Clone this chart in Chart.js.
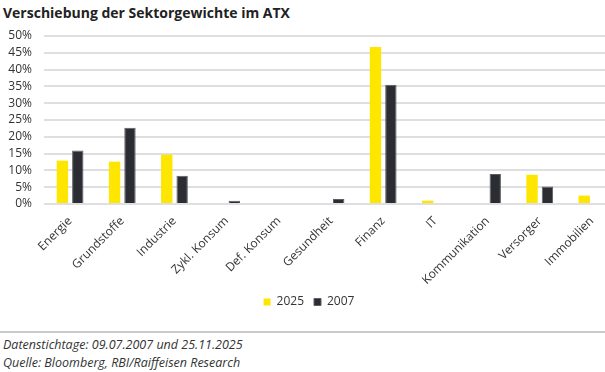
<!DOCTYPE html>
<html>
<head>
<meta charset="utf-8">
<script src="https://cdn.jsdelivr.net/npm/chart.js@4.4.0/dist/chart.umd.min.js"></script>
<style>
  body { margin: 0; width: 605px; height: 372px; overflow: hidden; background: #fff; position: relative;
         font-family: "Open Sans", sans-serif; color: #333; }
  #title { position: absolute; left: 3px; top: 3px; font-size: 14px; font-weight: bold; color: #222; white-space: nowrap; }
  #wrap { position: absolute; left: 0; top: 0; width: 620px; height: 318px; }
  #rule { position: absolute; left: 0; top: 331px; width: 605px; height: 2px; background: #cacaca; }
  .note { position: absolute; left: 3px; font-size: 12.5px; font-style: italic; white-space: nowrap; }
</style>
</head>
<body>
<div id="title">Verschiebung der Sektorgewichte im ATX</div>
<div id="wrap"><canvas id="myChart" width="620" height="318"></canvas></div>
<div id="rule"></div>
<div class="note" style="top:336px">Datenstichtage: 09.07.2007 und 25.11.2025</div>
<div class="note" style="top:354px">Quelle: Bloomberg, RBI/Raiffeisen Research</div>

<script>
// sector weights in % of the ATX
var sectors = ["Energie", "Grundstoffe", "Industrie", "Zykl. Konsum", "Def. Konsum", "Gesundheit",
               "Finanz", "IT", "Kommunikation", "Versorger", "Immobilien"];
var weights2025 = [12.9, 12.6, 14.7, null, null, null, 46.7, 1.0, null, 8.7, 2.5];
var weights2007 = [15.9, 22.7, 8.4, 1.0, null, 1.5, 35.5, null, 8.9, 5.2, null];
var seriesNames = ["2025", "2007"];
var yMax = 50;
var yStep = 5;

var ctx = document.getElementById("myChart").getContext("2d");

var myBarChart = new Chart(ctx, {
    type: 'bar',
    data: {
        labels: sectors,
        datasets: [
            {
                label: seriesNames[0],
                data: weights2025,
                backgroundColor: '#ffe600',
                borderWidth: 0
            },
            {
                label: seriesNames[1],
                data: weights2007,
                backgroundColor: '#2b2d33',
                borderColor: '#5c5e63',
                borderWidth: 1
            }
        ]
    },
    options: {
        responsive: false,
        animation: false,
        devicePixelRatio: 1,
        categoryPercentage: 0.59,
        barPercentage: 0.74,
        layout: { padding: { top: 36, left: 0, right: 2, bottom: 0 } },
        plugins: {
            legend: {
                position: 'bottom',
                labels: {
                    boxWidth: 7,
                    boxHeight: 7,
                    padding: 10,
                    color: '#333',
                    font: { family: '"Open Sans", sans-serif', size: 12 }
                }
            },
            tooltip: { enabled: false }
        },
        scales: {
            x: {
                grid: { display: false },
                border: { display: false },
                ticks: {
                    minRotation: 45,
                    maxRotation: 45,
                    autoSkip: false,
                    padding: 2,
                    color: '#333',
                    font: { family: '"Open Sans", sans-serif', size: 12 }
                },
                afterFit: function (scale) { scale.height = 82; }
            },
            y: {
                min: 0,
                max: yMax,
                grid: { color: '#dedee3', lineWidth: 2, drawTicks: false },
                border: { display: false },
                ticks: {
                    stepSize: yStep,
                    autoSkip: false,
                    padding: 12,
                    color: '#333',
                    font: { family: '"Open Sans", sans-serif', size: 12 },
                    callback: function (v) { return v + '%'; }
                },
                afterFit: function (scale) { scale.width = 44; }
            }
        }
    }
});
</script>
</body>
</html>
